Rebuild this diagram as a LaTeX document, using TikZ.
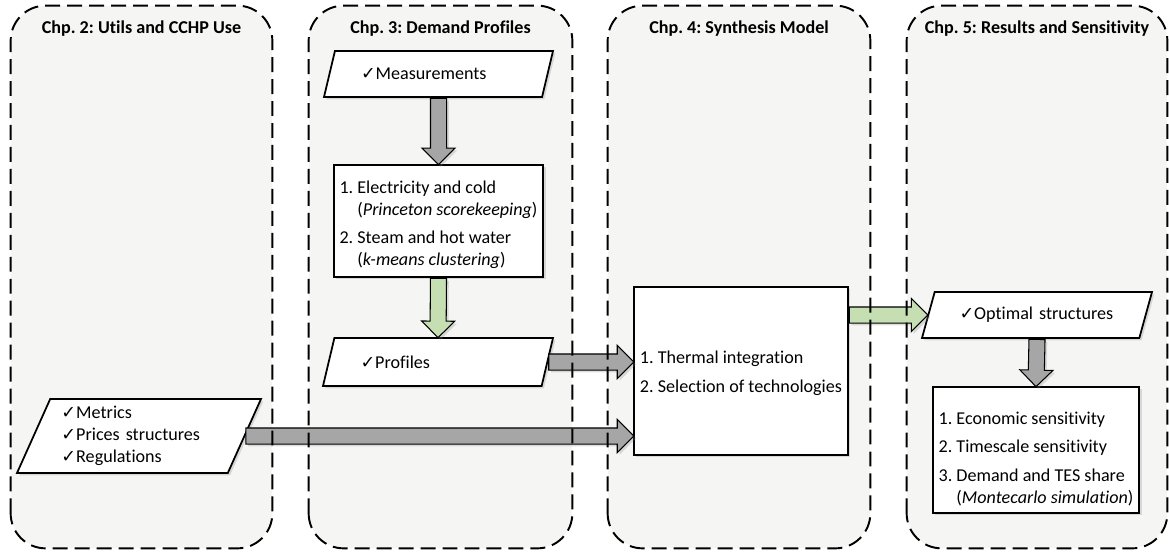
\documentclass[tikz,border=0pt]{standalone}
\usepackage{fontspec}
\setmainfont{Carlito}[Ligatures=NoCommon]
\newfontfamily\symfont{DejaVu Sans}
\usetikzlibrary{shapes.geometric,shapes.arrows,shadows,calc}
\frenchspacing

\definecolor{panelgray}{RGB}{245,245,243}
\definecolor{arrowgray}{RGB}{166,166,166}
\definecolor{arrowgreen}{RGB}{197,222,178}

\newcommand{\chk}{{\symfont\fontsize{10}{10}\selectfont ✓}}
\newcommand{\flowarrow}[3][arrowgray]{%
  \path let \p1=(#2), \p2=(#3), \n1={atan2(\y2-\y1,\x2-\x1)}, \n2={veclen(\x2-\x1,\y2-\y1)}
    in node[flow, fill=#1, minimum height=\n2, rotate=\n1, anchor=tail] at (\p1) {};}

\tikzset{
  chapter/.style={draw=none, fill=panelgray, rounded corners=0.7cm},
  chapline/.style={draw, dash pattern=on 8.5pt off 4pt, line width=1.1pt, rounded corners=0.7cm},
  chaptitle/.style={font=\fontsize{10.3}{12.5}\selectfont\bfseries},
  softshadow/.style={drop shadow={shadow xshift=1.3pt, shadow yshift=-1.3pt, opacity=0.25}},
  inout/.style={trapezium, trapezium left angle=65, trapezium right angle=115,
    trapezium stretches body, draw, line width=1pt, fill=white, softshadow,
    text width=3.1cm, align=left, inner xsep=0pt},
  task/.style={rectangle, draw, line width=1pt, fill=white, softshadow, align=left},
  flow/.style={single arrow, draw, line width=0.6pt, inner xsep=0pt, inner ysep=0.15cm,
    single arrow head extend=0.17cm, single arrow head indent=0pt, softshadow}
}

\begin{document}
\begin{tikzpicture}[font=\fontsize{10.3}{12.5}\selectfont]
  \useasboundingbox (0,0) rectangle (23.38,-11.02);
  % chapters
  \node[chapter, minimum width=5.22cm, minimum height=10.84cm] (ch2) at (2.83,-5.54) {};
  \node[chapter, minimum width=5.26cm, minimum height=10.84cm] (ch3) at (8.81,-5.54) {};
  \node[chapter, minimum width=5.24cm, minimum height=10.84cm] (ch4) at (14.78,-5.54) {};
  \node[chapter, minimum width=5.20cm, minimum height=10.84cm] (ch5) at (20.74,-5.54) {};
  \node[chaptitle] (t2) at ([yshift=-0.46cm]ch2.north) {Chp. 2: Utils and CCHP Use};
  \node[chaptitle] (t3) at ([yshift=-0.46cm]ch3.north) {Chp. 3: Demand Profiles};
  \node[chaptitle] (t4) at ([yshift=-0.46cm]ch4.north) {Chp. 4: Synthesis Model};
  \node[chaptitle] (t5) at ([yshift=-0.46cm]ch5.north) {Chp. 5: Results and Sensitivity};

  % data and models
  \node[inout, minimum width=4.58cm, minimum height=0.92cm] (meas) at (8.77,-1.48) {\chk Measurements};
  \node[task, minimum width=4.10cm, minimum height=2.24cm] (demand) at (8.77,-4.42)
    {\rule{0pt}{0.4cm}1. Electricity and cold\\ \phantom{1.}\ (\textit{Princeton scorekeeping})\\[3.4pt]
     2. Steam and hot water\\ \phantom{1.}\ (\textit{k-means clustering})};
  \node[inout, minimum width=4.60cm, minimum height=0.96cm] (profiles) at (8.76,-7.24) {\chk Profiles};
  \node[inout, minimum width=4.88cm, minimum height=1.48cm] (metrics) at (2.78,-8.72)
    {\chk Metrics\\ \chk Prices structures\\ \chk Regulations};
  \node[task, minimum width=4.12cm, minimum height=3.36cm] (synth) at (14.82,-7.42)
    {\rule{0pt}{0.35cm}1. Thermal integration\\[3.8pt] 2. Selection of technologies};
  \node[task, minimum width=4.12cm, minimum height=2.52cm] (results) at (20.72,-9.00)
    {\rule{0pt}{0.6cm}1. Economic sensitivity\\[3.6pt] 2. Timescale sensitivity\\[3.6pt]
     3. Demand and TES share\\ \phantom{3.}\ (\textit{Montecarlo simulation})};
  \node[inout, minimum width=4.60cm, minimum height=0.92cm] (optimal) at (20.74,-6.30) {\chk Optimal structures};

  % flows
  \flowarrow{meas.south}{demand.north}
  \flowarrow[arrowgreen]{demand.south}{profiles.north}
  \flowarrow{profiles.east}{profiles.east -| synth.west}
  \flowarrow{metrics.east}{metrics.east -| synth.west}
  \flowarrow[arrowgreen]{optimal.west -| synth.east}{optimal.west}
  \flowarrow{optimal.south}{results.north}

  \foreach \c in {ch2,ch3,ch4,ch5}
    \draw[chapline] (\c.south west) rectangle (\c.north east);
\end{tikzpicture}
\end{document}
